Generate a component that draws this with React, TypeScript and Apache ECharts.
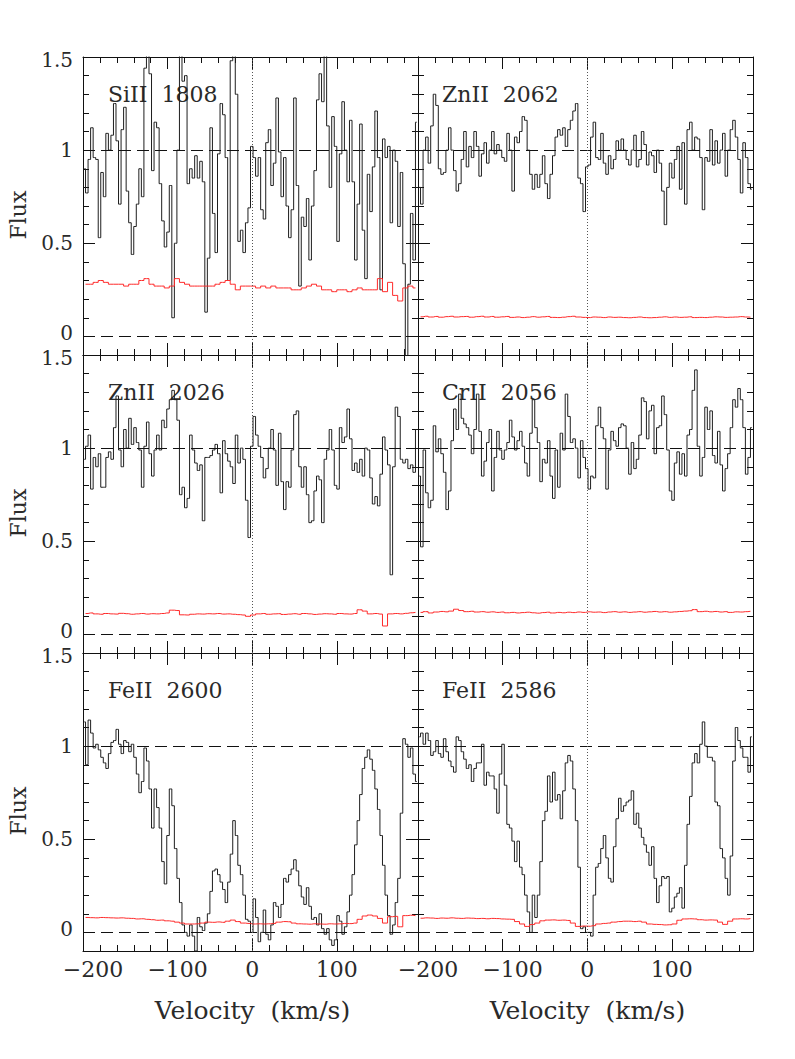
import React, { useEffect, useRef } from "react";
import * as echarts from "echarts";

// velocity grid of the flux bins (km/s) and of the error bins
const FLUX_V0 = -198.5;
const FLUX_DV = 3;
const ERR_V0 = -197;
const ERR_DV = 6;

const X_MIN = -200;
const X_MAX = 196;
const Y_MIN = -0.1;
const Y_MAX = 1.5;
const X_TICKS_MAJOR = 100;
const X_TICKS_MINOR = 20;
const Y_LABEL_STEP = 0.5;

const TITLES = ["SiII  1808", "ZnII  2062", "ZnII  2026", "CrII  2056", "FeII  2600", "FeII  2586"];

const SIII_1808 = [
  0.90,0.77,0.95,1.12,0.96,0.95,0.53,0.88,0.75,1.09,
  1.0,1.08,1.25,1.05,0.71,1.11,1.23,0.78,0.61,0.44,
  0.59,0.71,0.90,0.75,1.44,1.6,1.41,0.89,1.15,1.12,
  0.82,0.62,0.48,0.56,0.81,0.10,0.50,1.0,1.7,1.37,
  1.4,0.82,0.90,0.85,0.97,0.85,0.94,0.83,0.13,0.42,
  1.12,0.66,0.45,0.98,1.25,1.19,0.96,0.30,1.48,1.55,
  1.3,0.51,0.57,0.45,0.61,0.69,
  1.02,0.96,0.86,0.96,0.68,0.63,1.04,1.11,0.81,0.93,
  1.28,0.99,0.75,0.96,0.70,0.53,0.68,1.28,0.81,0.27,
  0.64,0.59,0.74,0.41,0.70,0.89,1.27,1.41,1.26,1.6,
  1.13,0.80,1.18,1.02,0.51,0.98,1.26,1.0,0.83,1.16,
  0.83,0.41,0.71,1.14,0.57,0.31,0.87,0.67,0.91,1.21,
  0.96,0.25,1.06,0.96,1.02,0.61,1.0,0.94,0.59,0.88,
  0.39,-0.15,0.28,0.66,0.41,1.15,
];
const SIII_1808_ERR = [
  0.28,0.28,0.29,0.30,0.29,0.28,0.28,0.28,0.27,0.28,
  0.28,0.30,0.31,0.28,0.27,0.27,0.26,0.27,0.31,0.29,
  0.28,0.27,0.27,0.27,0.27,0.27,0.28,0.29,0.30,0.28,
  0.25,0.27,0.27,0.27,0.26,0.27,0.26,0.27,0.26,0.26,
  0.26,0.25,0.25,0.26,0.27,0.28,0.27,0.25,0.25,0.24,
  0.25,0.25,0.24,0.25,0.26,0.25,0.25,0.25,0.31,0.24,
  0.29,0.22,0.19,0.26,0.27,0.26,
];

const ZNII_2062 = [
  0.80,0.71,1.0,1.07,0.93,1.13,1.30,1.24,0.90,0.87,
  0.88,1.0,1.12,1.0,0.89,0.78,0.82,0.95,1.1,0.91,
  1.02,0.96,1.1,1.02,0.86,0.98,1.04,0.93,1.0,1.1,
  0.98,1.03,1.0,0.96,0.94,1.09,1.0,0.78,1.07,1.04,
  1.1,1.18,1.16,1.0,0.87,0.79,0.87,0.8,0.87,0.97,
  0.82,0.74,0.87,0.97,1.07,1.11,1.08,1.12,1.02,1.11,
  1.16,1.21,1.25,0.85,0.82,0.67,
  0.91,0.92,1.07,1.15,0.96,0.95,1.09,0.93,0.87,0.97,
  0.90,0.95,1.05,1.0,1.06,1.0,0.95,0.92,1.0,1.08,
  0.91,0.95,1.1,1.03,0.92,0.99,0.97,0.88,1.0,0.93,
  0.78,0.6,0.8,0.93,0.85,0.95,1.02,0.79,1.04,0.71,
  1.11,1.15,1.0,1.07,1.06,0.96,0.68,0.96,0.94,1.11,
  0.92,1.05,0.93,1.0,1.09,0.86,1.0,1.11,1.16,1.07,
  0.95,0.77,1.04,0.96,0.82,0.79,
];
const ZNII_2062_ERR = [
  0.105,0.108,0.104,0.107,0.103,0.106,0.108,0.104,0.106,0.107,
  0.103,0.106,0.108,0.104,0.107,0.103,0.105,0.107,0.102,0.104,
  0.101,0.103,0.106,0.103,0.105,0.107,0.102,0.101,0.103,0.106,
  0.108,0.104,0.102,0.101,0.104,0.103,0.101,0.104,0.102,0.103,
  0.101,0.100,0.102,0.104,0.101,0.100,0.101,0.103,0.105,0.102,
  0.104,0.102,0.103,0.105,0.101,0.102,0.101,0.103,0.105,0.104,
  0.102,0.103,0.104,0.106,0.104,0.103,
];

const ZNII_2026 = [
  0.94,1.01,1.07,0.78,0.95,0.9,0.97,0.79,0.79,0.95,
  0.98,0.94,1.11,1.28,0.99,0.9,1.1,1.0,1.16,1.02,
  1.11,1.03,0.99,0.79,1.01,1.14,0.97,0.85,0.99,1.07,
  0.99,1.15,1.11,1.21,1.26,1.31,1.26,1.15,0.75,0.79,
  0.68,0.73,1.07,0.99,0.92,0.88,0.91,0.61,0.95,0.95,
  0.96,0.99,1.02,0.97,0.76,1.04,0.97,0.93,0.9,0.81,
  1.07,0.92,1.0,0.94,0.72,0.52,
  1.01,1.17,1.07,1.01,0.95,0.84,0.89,1.0,1.1,0.99,
  0.8,1.08,0.82,0.67,0.82,0.79,0.99,1.18,1.2,0.9,
  0.79,0.9,0.75,0.6,0.61,0.77,0.85,0.83,0.6,0.94,
  0.99,1.1,0.99,0.8,0.78,1.11,1.03,1.06,1.21,1.05,
  0.88,0.92,0.87,0.94,0.85,1.0,0.99,0.84,0.7,0.74,
  0.69,0.86,1.06,0.99,0.91,0.32,0.9,1.22,1.17,0.94,
  0.92,0.94,0.89,0.91,0.87,1.1,
];
const ZNII_2026_ERR = [
  0.112,0.115,0.110,0.108,0.112,0.110,0.109,0.113,0.111,0.108,
  0.110,0.112,0.109,0.111,0.110,0.112,0.115,0.130,0.128,0.105,
  0.104,0.108,0.110,0.109,0.111,0.110,0.112,0.109,0.110,0.108,
  0.106,0.104,0.097,0.104,0.110,0.112,0.108,0.110,0.111,0.107,
  0.109,0.111,0.108,0.112,0.110,0.107,0.109,0.111,0.110,0.108,
  0.112,0.110,0.109,0.112,0.132,0.125,0.110,0.112,0.109,0.045,
  0.110,0.112,0.110,0.113,0.116,0.118,
];

const CRII_2056 = [
  0.85,0.47,0.99,0.76,0.68,0.72,1.12,0.98,1.05,0.97,
  0.87,0.67,0.77,1.04,1.21,1.1,1.29,1.16,1.13,1.11,
  1.07,0.97,1.1,1.29,1.09,0.85,0.93,1.03,1.1,0.77,
  0.95,1.09,0.99,0.94,0.99,1.03,1.15,1.06,0.99,1.04,
  1.09,1.01,0.92,0.85,1.08,1.26,1.11,1.03,0.82,0.94,
  0.92,1.04,0.85,0.73,0.99,0.79,1.08,0.99,1.29,1.17,
  1.03,1.05,1.0,0.84,1.04,0.95,
  0.89,0.78,0.85,0.84,1.12,1.22,1.11,1.05,0.78,0.99,
  1.09,1.04,1.01,1.11,1.13,1.12,1.0,0.86,1.03,0.89,
  0.94,1.07,1.27,1.25,1.05,1.2,1.23,0.97,1.11,1.12,
  1.28,1.18,0.99,0.77,0.72,0.92,0.98,0.86,0.97,0.85,
  1.07,1.1,1.31,1.42,1.01,0.85,0.95,1.22,1.1,1.2,
  0.96,0.92,1.09,0.91,0.77,0.89,0.97,1.11,1.26,1.22,
  1.32,1.26,1.11,0.86,0.95,1.11,
];
const CRII_2056_ERR = [
  0.118,0.122,0.115,0.120,0.123,0.121,0.125,0.135,0.128,0.122,
  0.124,0.120,0.122,0.119,0.121,0.118,0.120,0.116,0.118,0.115,
  0.117,0.119,0.116,0.114,0.117,0.119,0.115,0.118,0.116,0.119,
  0.117,0.120,0.118,0.121,0.119,0.120,0.117,0.120,0.122,0.119,
  0.121,0.118,0.120,0.122,0.119,0.121,0.123,0.120,0.122,0.119,
  0.121,0.123,0.125,0.127,0.133,0.122,0.124,0.121,0.123,0.120,
  0.122,0.118,0.121,0.120,0.122,0.124,
];

const FEII_2600 = [
  1.13,0.9,1.14,1.07,0.99,1.01,0.98,0.94,0.91,0.88,
  0.96,1.02,1.03,1.09,1.01,0.96,1.03,1.02,0.97,1.01,
  0.94,0.85,0.75,0.81,0.99,0.92,0.77,0.56,0.77,0.67,
  0.56,0.38,0.26,0.52,0.77,0.68,0.45,0.29,0.16,0.04,
  0.0,-0.02,0.04,-0.02,-0.1,0.08,0.03,0.01,0.05,0.10,
  0.22,0.33,0.34,0.31,0.27,0.23,0.16,0.27,0.42,0.6,
  0.52,0.36,0.31,0.2,0.07,0.06,
  0.0,0.18,0.08,-0.05,0.0,0.12,-0.01,-0.04,0.04,0.16,
  0.14,0.08,0.15,0.29,0.27,0.31,0.34,0.39,0.33,0.25,
  0.19,0.15,0.24,0.14,0.07,0.08,0.04,0.1,0.02,-0.01,
  0.02,-0.04,-0.07,-0.04,0.09,0.06,-0.01,0.03,0.11,0.2,
  0.31,0.47,0.6,0.74,0.88,0.94,0.98,0.93,0.87,0.77,
  0.66,0.52,0.36,0.2,0.09,-0.01,0.04,0.16,0.29,0.64,
  1.04,1.01,0.94,0.99,0.85,0.81,
];
const FEII_2600_ERR = [
  0.080,0.079,0.078,0.080,0.079,0.078,0.077,0.078,0.076,0.075,
  0.072,0.073,0.070,0.068,0.065,0.066,0.062,0.060,0.055,0.050,
  0.045,0.045,0.046,0.050,0.055,0.054,0.056,0.054,0.060,0.066,
  0.058,0.050,0.048,0.045,0.046,0.045,0.046,0.048,0.055,0.058,
  0.057,0.050,0.046,0.045,0.044,0.046,0.045,0.044,0.046,0.045,
  0.046,0.048,0.047,0.050,0.070,0.088,0.093,0.088,0.075,0.050,
  0.084,0.086,0.030,0.090,0.092,0.090,
];

const FEII_2586 = [
  1.05,1.07,1.01,1.07,1.03,0.95,0.97,1.03,0.96,0.94,
  1.04,0.97,0.92,0.89,0.86,1.05,1.03,0.97,0.93,0.88,
  0.9,0.81,0.88,0.91,0.91,1.01,0.79,0.86,0.84,0.84,
  0.77,0.64,0.85,1.01,0.79,0.58,0.56,0.49,0.38,0.49,
  0.35,0.31,0.2,0.11,0.0,0.2,0.08,0.2,0.38,0.6,
  0.65,0.84,0.7,0.86,0.71,0.74,0.61,0.76,0.91,0.95,
  0.92,0.77,0.6,0.35,0.02,0.03,
  0.0,0.0,-0.02,0.2,0.35,0.37,0.45,0.52,0.4,0.29,
  0.27,0.46,0.61,0.72,0.65,0.68,0.70,0.71,0.76,0.58,
  0.64,0.56,0.51,0.47,0.43,0.36,0.46,0.29,0.16,0.25,
  0.3,0.29,0.3,0.11,0.13,0.19,0.21,0.24,0.13,0.36,
  0.58,0.73,0.91,0.96,0.91,1.01,1.13,1.0,0.94,0.94,
  0.92,0.7,0.68,0.45,0.4,0.29,0.2,0.41,0.92,1.1,
  1.03,0.99,0.94,0.94,0.86,1.05,
];
const FEII_2586_ERR = [
  0.076,0.078,0.077,0.075,0.077,0.076,0.078,0.076,0.075,0.077,
  0.076,0.074,0.075,0.073,0.075,0.074,0.072,0.071,0.070,0.058,
  0.045,0.032,0.042,0.050,0.062,0.066,0.067,0.065,0.066,0.064,
  0.050,0.032,0.034,0.033,0.036,0.045,0.048,0.050,0.055,0.058,
  0.060,0.060,0.058,0.060,0.055,0.045,0.043,0.042,0.040,0.041,
  0.045,0.065,0.072,0.073,0.072,0.068,0.066,0.067,0.066,0.055,
  0.043,0.060,0.072,0.073,0.072,0.074,
];

const FLUXES = [SIII_1808, ZNII_2062, ZNII_2026, CRII_2056, FEII_2600, FEII_2586];
const ERRORS = [SIII_1808_ERR, ZNII_2062_ERR, ZNII_2026_ERR, CRII_2056_ERR, FEII_2600_ERR, FEII_2586_ERR];

// layout
const GRID_LEFT = [83, 418];
const GRID_TOP = [57, 355, 653];
const GRID_W = 335;
const GRID_H = 298;
const FONT = "DejaVu Serif";
const TXT = "#2a2a2a";
const AX = "#111";
const YLAB = 20;

function buildOption() {
  const grid: any[] = [];
  const xAxis: any[] = [];
  const yAxis: any[] = [];
  const series: any[] = [];
  const graphic: any[] = [];

  const xFmt = (v: number) => {
    if (Math.abs(v / X_TICKS_MAJOR - Math.round(v / X_TICKS_MAJOR)) > 1e-6) return "";
    return v < 0 ? `{n|\u2212${Math.abs(v)}}` : `${v}`;
  };
  const yFmt = (v: number) => {
    const r = Math.round(v / Y_LABEL_STEP) * Y_LABEL_STEP;
    if (Math.abs(v - r) > 1e-6 || v < -1e-6) return "";
    if (Math.abs(r - Y_MAX) < 1e-6) return `{t|${r}}`;
    if (Math.abs(r) < 1e-6) return `{b|${r}}`;
    return String(r);
  };
  const yRich = {
    t: { color: TXT, fontFamily: FONT, fontSize: YLAB, padding: [6, 0, 0, 0] },
    b: { color: TXT, fontFamily: FONT, fontSize: YLAB, padding: [0, 0, 6, 0] },
  };

  TITLES.forEach((title, g) => {
    const row = Math.floor(g / 2);
    const col = g % 2;
    const left = GRID_LEFT[col];
    const top = GRID_TOP[row];
    const bottomRow = row === 2;
    const leftCol = col === 0;
    grid.push({ left, top, width: GRID_W, height: GRID_H, containLabel: false, outerBoundsMode: "none" });

    const xBase = {
      gridIndex: g, type: "value", min: X_MIN, max: X_MAX,
      splitLine: { show: false }, axisPointer: { show: false },
    };
    const lineOn = { show: true, onZero: false, lineStyle: { color: AX, width: 1 } };
    const lineOff = { show: false, onZero: false };
    ["bottom", "top"].forEach((pos) => {
      xAxis.push({
        ...xBase, position: pos, interval: X_TICKS_MAJOR,
        axisLine: lineOn,
        axisTick: { show: true, inside: true, length: 12, lineStyle: { color: AX, width: 1 } },
        axisLabel: {
          show: bottomRow && pos === "bottom", margin: 7, color: TXT, fontFamily: FONT, fontSize: 22,
          formatter: xFmt, showMinLabel: true, showMaxLabel: true,
          rich: { n: { color: TXT, fontFamily: FONT, fontSize: 22, padding: [0, 0, 0, 20] } },
        },
      });
      xAxis.push({
        ...xBase, position: pos, interval: X_TICKS_MINOR,
        axisLine: lineOff,
        axisTick: { show: true, inside: true, length: 6, lineStyle: { color: AX, width: 1 } },
        axisLabel: { show: false },
      });
    });

    const yBase = { gridIndex: g, type: "value", splitLine: { show: false }, axisPointer: { show: false } };
    ["left", "right"].forEach((pos) => {
      yAxis.push({
        ...yBase, position: pos, min: Y_MIN, max: Y_MAX, interval: 0.1,
        axisLine: lineOn,
        axisTick: { show: true, inside: true, length: 6, lineStyle: { color: AX, width: 1 } },
        axisLabel: {
          show: leftCol && pos === "left", margin: 10, color: TXT, fontFamily: FONT, fontSize: YLAB,
          formatter: yFmt, rich: yRich, showMinLabel: true, showMaxLabel: true,
        },
      });
      // major ticks: inverse axis measured down from the top (1.5), so 0 is a multiple of the interval
      yAxis.push({
        ...yBase, position: pos, inverse: true, min: 0, max: Y_MAX - Y_MIN, interval: Y_LABEL_STEP,
        axisLine: lineOff,
        axisTick: { show: true, inside: true, length: 12, lineStyle: { color: AX, width: 1 } },
        axisLabel: { show: false },
      });
    });

    const xi = g * 4;
    const yi = g * 4;
    series.push({
      type: "line", name: title, xAxisIndex: xi, yAxisIndex: yi,
      data: FLUXES[g].map((f, i) => [FLUX_V0 + FLUX_DV * i, f]),
      step: "middle", symbol: "none", silent: true,
      lineStyle: { color: "#1e1e1e", width: 1 },
      markLine: {
        silent: true, symbol: ["none", "none"], label: { show: false },
        lineStyle: { color: "#111", width: 1, type: [12, 6] },
        data: [
          { yAxis: 1 },
          { yAxis: 0 },
          { xAxis: 0, lineStyle: { color: "#555", width: 1, type: [1, 2] } },
        ],
      },
    });
    series.push({
      type: "line", name: title + " error", xAxisIndex: xi, yAxisIndex: yi,
      data: ERRORS[g].map((e, j) => [ERR_V0 + ERR_DV * j, e]),
      step: "middle", symbol: "none", silent: true,
      lineStyle: { color: "#ff2a2a", width: 1 },
    });

    graphic.push({
      type: "text", x: left + (leftCol ? 25 : 24), y: top + 37,
      style: { text: title, fill: TXT, fontFamily: FONT, fontSize: 22, align: "left", verticalAlign: "middle" },
    });
    if (leftCol) {
      graphic.push({
        type: "text", x: 18, y: top + 158, rotation: Math.PI / 2,
        style: { text: "Flux", fill: TXT, fontFamily: FONT, fontSize: 22, align: "center", verticalAlign: "middle" },
      });
    }
    if (bottomRow) {
      graphic.push({
        type: "text", x: left + GRID_W / 2 + 2, y: 1010,
        style: { text: "Velocity  (km/s)", fill: TXT, fontFamily: FONT, fontSize: 25, align: "center", verticalAlign: "middle" },
      });
    }
  });

  return {
    animation: false,
    backgroundColor: "#ffffff",
    grid, xAxis, yAxis, series, graphic,
  };
}

export default function App() {
  const ref = useRef<HTMLDivElement>(null);
  useEffect(() => {
    document.body.style.margin = "0";
    const chart = echarts.init(ref.current as HTMLDivElement, null, { renderer: "svg" });
    chart.setOption(buildOption() as any);
    return () => chart.dispose();
  }, []);
  return <div ref={ref} style={{ width: 795, height: 1059, background: "#fff", overflow: "hidden" }} />;
}
